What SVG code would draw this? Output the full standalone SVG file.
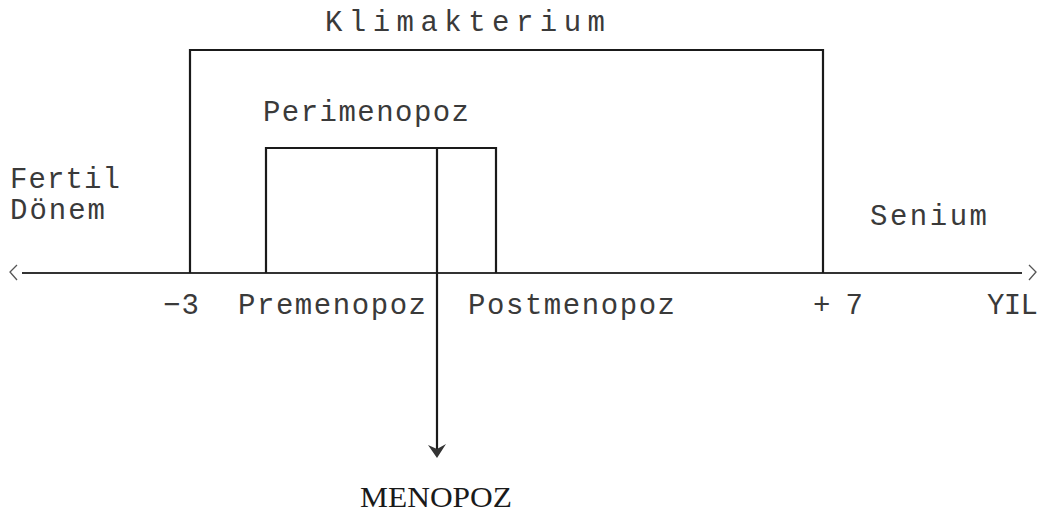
<svg xmlns="http://www.w3.org/2000/svg" width="1054" height="518" viewBox="0 0 1054 518">
  <style>
    .lbl { font-family: "Liberation Mono", "DejaVu Sans Mono", monospace; font-size: 29px; fill: #3a3a3a; }
    .serif { font-family: "Liberation Serif", serif; font-size: 30px; fill: #1a1a1a; }
    .ln { stroke: #1a1a1a; stroke-width: 2.2; fill: none; }
    .axis { stroke: #333; stroke-width: 2; fill: none; }
    .chev { stroke: #555; stroke-width: 1.3; fill: none; }
  </style>
  <rect width="1054" height="518" fill="#fff"/>

  <g id="connectors">
    <!-- time axis -->
    <line class="axis" x1="22" y1="273" x2="1022" y2="273"/>
    <polyline class="chev" points="17,265 10,272 17,280"/>
    <polyline class="chev" points="1029,265 1036,272 1029,280"/>
    <!-- menopause marker -->
    <line class="ln" x1="437" y1="148" x2="437" y2="450"/>
    <polygon points="428,445 437,458 446,444 437,449" fill="#333"/>
  </g>

  <g id="klimakterium">
    <polyline class="ln" points="190,273 190,50 823,50 823,273"/>
    <text class="lbl" x="325" y="31" textLength="280" lengthAdjust="spacing">Klimakterium</text>
  </g>

  <g id="perimenopoz">
    <polyline class="ln" points="266,273 266,148 496,148 496,273"/>
    <text class="lbl" x="263" y="121" textLength="206" lengthAdjust="spacing">Perimenopoz</text>
  </g>

  <g id="fertil">
    <text class="lbl" x="10" y="188" textLength="110" lengthAdjust="spacing">Fertil</text>
    <text class="lbl" x="10" y="219" textLength="95" lengthAdjust="spacing">Dönem</text>
  </g>

  <g id="senium">
    <text class="lbl" x="870" y="225" textLength="117" lengthAdjust="spacing">Senium</text>
  </g>

  <g id="ticks">
    <text class="lbl" x="163" y="314" textLength="36" lengthAdjust="spacing">−3</text>
    <text class="lbl" x="238" y="314" textLength="188" lengthAdjust="spacing">Premenopoz</text>
    <text class="lbl" x="468" y="314" textLength="207" lengthAdjust="spacing">Postmenopoz</text>
    <text class="lbl" x="813" y="314" textLength="50" lengthAdjust="spacing">+ 7</text>
    <text class="lbl" x="987" y="314" textLength="51" lengthAdjust="spacing">YIL</text>
  </g>

  <g id="menopoz">
    <text class="serif" x="360" y="507" textLength="152" lengthAdjust="spacingAndGlyphs">MENOPOZ</text>
  </g>
</svg>
